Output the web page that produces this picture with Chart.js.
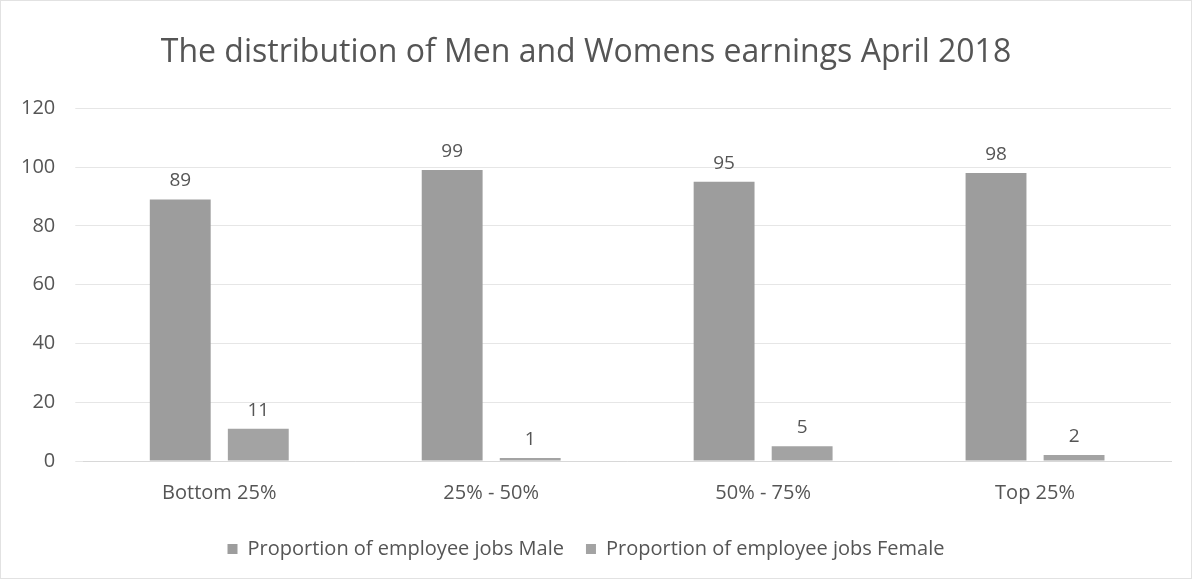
<!DOCTYPE html>
<html>
<head>
<meta charset="utf-8">
<script src="https://cdn.jsdelivr.net/npm/chart.js@4.4.0/dist/chart.umd.min.js"></script>
<style>
  html, body { margin: 0; padding: 0; background: #fff; }
  .wrap { position: relative; width: 1192px; height: 579px; box-sizing: border-box; border: 1px solid #e2e2e2; }
  canvas { display: block; }
</style>
</head>
<body>
<div class="wrap"><canvas id="chart"></canvas></div>
<script>
const categories = ['Bottom 25%', '25% - 50%', '50% - 75%', 'Top 25%'];
const maleValues = [89, 99, 95, 98];
const femaleValues = [11, 1, 5, 2];
const seriesNames = ['Proportion of employee jobs Male', 'Proportion of employee jobs Female'];
const yTicks = [0, 20, 40, 60, 80, 100, 120];

const FONT = '"Open Sans", "Noto Sans", sans-serif';
const TEXT = '#555555';

// draws the value above each bar
const valueLabels = {
    id: 'valueLabels',
    afterDatasetsDraw(chart) {
        const ctx = chart.ctx;
        ctx.save();
        ctx.font = `19px ${FONT}`;
        ctx.fillStyle = TEXT;
        ctx.textAlign = 'center';
        ctx.textBaseline = 'bottom';
        chart.data.datasets.forEach((ds, i) => {
            chart.getDatasetMeta(i).data.forEach((bar, j) => {
                ctx.fillText(String(ds.data[j]), bar.x, bar.y - 9);
            });
        });
        ctx.restore();
    }
};

new Chart(document.getElementById('chart'), {
    type: 'bar',
    data: {
        labels: categories,
        datasets: [
            { label: seriesNames[0], data: maleValues, backgroundColor: '#9d9d9d', categoryPercentage: 0.574, barPercentage: 0.78 },
            { label: seriesNames[1], data: femaleValues, backgroundColor: '#a3a3a3', categoryPercentage: 0.574, barPercentage: 0.78 },
        ],
    },
    options: {
        responsive: true,
        maintainAspectRatio: false,
        animation: false,
        layout: { padding: { left: 0, right: 20, top: 8, bottom: 9 } },
        plugins: {
            title: {
                display: true,
                text: 'The distribution of Men and Womens earnings April 2018',
                color: TEXT,
                font: { family: FONT, size: 32, weight: 'normal' },
                padding: { top: 25, bottom: 36 },
            },
            legend: {
                position: 'bottom',
                labels: { boxWidth: 10, boxHeight: 10, color: TEXT, font: { family: FONT, size: 20 }, padding: 22 },
            },
            tooltip: { enabled: false },
        },
        scales: {
            x: {
                grid: { display: false },
                border: { color: '#d8d8d8' },
                ticks: { color: TEXT, font: { family: FONT, size: 20 }, padding: 12 },
            },
            y: {
                min: 0,
                max: 120,
                afterBuildTicks: (axis) => { axis.ticks = yTicks.map(v => ({ value: v })); },
                grid: { color: '#e6e6e6' },
                border: { display: false },
                ticks: { color: TEXT, font: { family: FONT, size: 20 }, padding: 20 },
            },
        },
    },
    plugins: [valueLabels],
});
</script>
</body>
</html>
